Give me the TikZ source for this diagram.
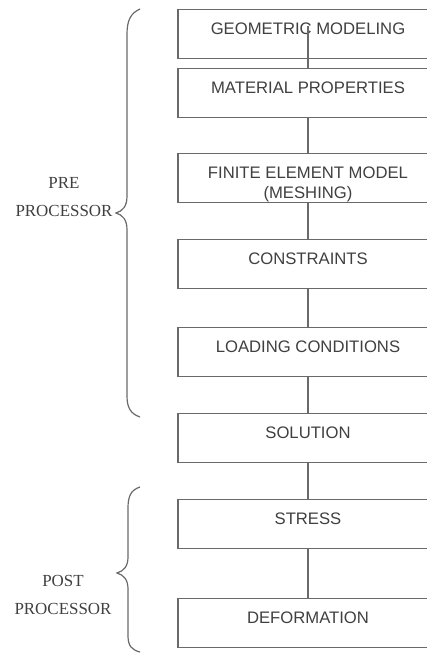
\documentclass[tikz,border=0pt]{standalone}
\usepackage{fontspec}
\setmainfont{Liberation Serif}
\newfontfamily\boxfont{Liberation Sans}
\definecolor{linegray}{HTML}{6A6A6A}
\definecolor{textgray}{HTML}{404040}
\tikzset{
  stepbox/.style={draw=linegray, line width=0.9pt, anchor=north, inner xsep=0pt, inner ysep=0pt,
    minimum width=195pt, text height=18.75pt, text depth=18pt, align=center,
    font=\boxfont\fontsize{12.5pt}{15pt}\selectfont, text=textgray},
  twoline/.style={text height=33.75pt, text depth=3pt},
  link/.style={draw=linegray, line width=0.9pt},
  bracepath/.style={draw=linegray, line width=0.9pt},
  grouplabel/.style={align=center, font=\fontsize{12.7pt}{21pt}\selectfont, text=textgray, inner sep=0pt}
}
\begin{document}
\begin{tikzpicture}[x=0.75pt, y=-0.75pt]
\useasboundingbox (0,0) rectangle (427,656);
\clip (0,0) rectangle (427,656);
\fill[white] (0,0) rectangle (427,656);

\node[stepbox] (geo) at (308,9) {GEOMETRIC MODELING};
\node[stepbox] (mat) at (308,68) {MATERIAL PROPERTIES};
\node[stepbox, twoline] (fem) at (308,153) {FINITE ELEMENT MODEL\\(MESHING)};
\node[stepbox] (con) at (308,239) {CONSTRAINTS};
\node[stepbox] (load) at (308,327) {LOADING CONDITIONS};
\node[stepbox] (sol) at (308,413) {SOLUTION};
\node[stepbox] (str) at (308,499) {STRESS};
\node[stepbox] (def) at (308,598) {DEFORMATION};

\draw[link] ([yshift=6pt]geo.center) -- (mat.north);
\draw[link] (mat.south) -- (fem.north);
\draw[link] (fem.south) -- (con.north);
\draw[link] (con.south) -- (load.north);
\draw[link] (load.south) -- (sol.north);
\draw[link] (sol.south) -- (str.north);
\draw[link] (str.south) -- (def.north);

% braces
\draw[bracepath] (140,9) .. controls (131,13) and (127,20) .. (127,34) -- (127,196)
  .. controls (127,206) and (123,211) .. (116,213)
  .. controls (123,215) and (127,220) .. (127,230) -- (127,396)
  .. controls (127,408) and (131,414) .. (140,417);
\draw[bracepath] (140,487) .. controls (131,490) and (128,496) .. (128,508) -- (128,557)
  .. controls (128,566) and (124,571) .. (117,573)
  .. controls (124,575) and (128,580) .. (128,589) -- (128,636)
  .. controls (128,646) and (132,650) .. (140,652);

\node[grouplabel] (pre) at (64,197) {PRE\\PROCESSOR};
\node[grouplabel] (post) at (63,595) {POST\\PROCESSOR};
\end{tikzpicture}
\end{document}
